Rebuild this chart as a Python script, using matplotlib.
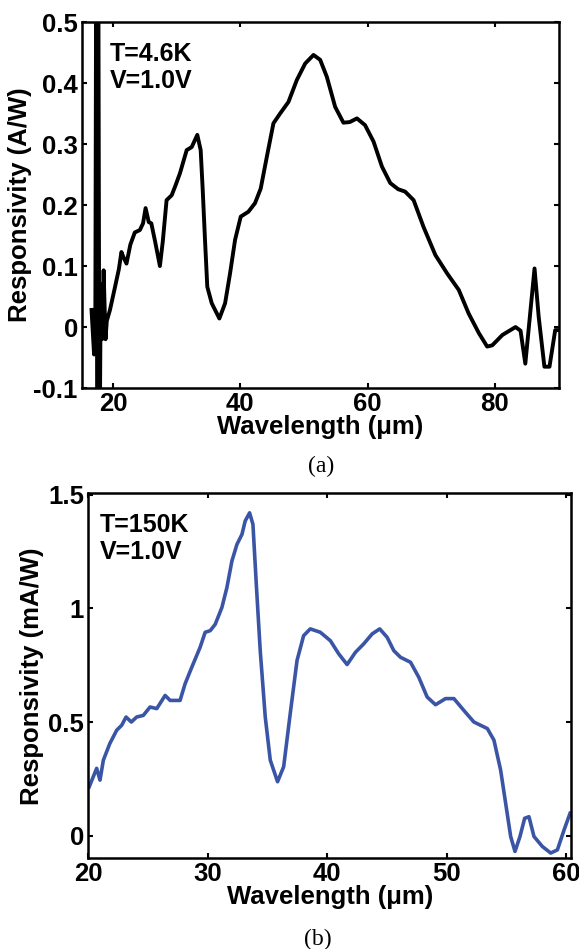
import matplotlib
matplotlib.use("Agg")
import matplotlib.pyplot as plt
from matplotlib.ticker import FuncFormatter

plt.rcParams['font.family'] = ['Liberation Sans', 'DejaVu Sans']
plt.rcParams['font.weight'] = 'bold'

# ---- Panel (a): T=4.6K ----
wl_a = [16.6, 17.0, 17.2, 17.35, 17.55, 17.65, 17.85, 18.05, 18.25, 18.5, 18.8, 19.0,
        19.5, 20.3, 20.9, 21.3, 21.6, 22.1, 22.7, 23.4, 24.2, 24.7, 25.1, 25.6, 26.0, 26.6,
        27.35, 27.8, 28.4, 29.2, 29.8, 30.5, 31.56, 32.35, 33.23, 33.76, 34.08, 34.44, 34.8,
        35.5, 36.7, 37.6, 38.38, 39.17, 40.06, 41.26, 42.3, 43.2, 44.16, 45.2, 46.25, 47.56,
        48.88, 50.19, 51.5, 52.55, 53.6, 54.9, 56.2, 57.2, 58.33, 59.6, 60.94, 62.26, 63.57,
        64.8, 65.9, 67.24, 68.8, 70.66, 72.5, 74.33, 75.9, 77.5, 78.8, 79.6, 81.2, 83.26,
        84.05, 84.8, 86.25, 86.9, 87.8, 88.6, 89.5, 90.0]
resp_a = [0.028, -0.045, 0.02, 0.7, -0.25, 0.7, -0.25, 0.07, -0.02, 0.093, -0.02, 0.01,
          0.028, 0.066, 0.095, 0.123, 0.115, 0.104, 0.135, 0.155, 0.159, 0.17, 0.195, 0.172, 0.17, 0.14,
          0.10, 0.14, 0.208, 0.216, 0.232, 0.252, 0.29, 0.295, 0.315, 0.29, 0.225, 0.143, 0.066,
          0.039, 0.014, 0.039, 0.088, 0.143, 0.181, 0.189, 0.203, 0.227, 0.279, 0.334, 0.35, 0.369,
          0.405, 0.432, 0.446, 0.438, 0.41, 0.361, 0.335, 0.336, 0.342, 0.331, 0.304, 0.263, 0.236,
          0.226, 0.222, 0.208, 0.164, 0.118, 0.088, 0.061, 0.022, -0.01, -0.032, -0.03, -0.013, 0.0,
          -0.006, -0.06, 0.096, 0.017, -0.065, -0.065, -0.005, -0.005]

# ---- Panel (b): T=150K ----
wl_b = [20.08, 20.7, 20.98, 21.26, 21.8, 22.38, 22.8, 23.16, 23.6, 24.05, 24.6, 25.17,
        25.73, 26.43, 26.85, 27.68, 28.1, 28.66, 29.36, 29.78, 30.2, 30.62, 31.18, 31.6,
        32.02, 32.44, 32.86, 33.13, 33.5, 33.78, 34.06, 34.39, 34.81, 35.23, 35.84, 36.35,
        36.9, 37.47, 38.02, 38.58, 39.42, 40.26, 40.96, 41.66, 42.36, 43.05, 43.76, 44.39,
        45.01, 45.57, 46.13, 46.97, 47.66, 48.36, 49.06, 49.9, 50.6, 51.43, 52.27, 53.4,
        53.95, 54.51, 54.93, 55.35, 55.71, 56.13, 56.52, 56.88, 57.3, 58.0, 58.7, 59.26,
        59.82, 60.32]
resp_b = [0.215, 0.296, 0.244, 0.332, 0.405, 0.464, 0.486, 0.522, 0.5, 0.522, 0.529, 0.566,
          0.559, 0.617, 0.595, 0.595, 0.668, 0.741, 0.829, 0.895, 0.902, 0.93, 1.004, 1.092,
          1.209, 1.282, 1.326, 1.385, 1.421, 1.37, 1.107, 0.814, 0.522, 0.332, 0.237, 0.303,
          0.537, 0.771, 0.88, 0.91, 0.895, 0.858, 0.8, 0.753, 0.807, 0.844, 0.888, 0.91,
          0.873, 0.814, 0.785, 0.763, 0.697, 0.61, 0.576, 0.603, 0.603, 0.551, 0.5, 0.471,
          0.42, 0.288, 0.142, -0.004, -0.07, -0.004, 0.076, 0.083, -0.004, -0.048, -0.077, -0.063,
          0.025, 0.098]

xticks_a = [20, 40, 60, 80]
yticks_a = [-0.1, 0, 0.1, 0.2, 0.3, 0.4, 0.5]
xticks_b = [20, 30, 40, 50, 60]
yticks_b = [0, 0.5, 1, 1.5]

fig = plt.figure(figsize=(5.79, 9.49), dpi=100)
ax1 = fig.add_axes([0.1416, 0.5911, 0.8239, 0.3857])
ax2 = fig.add_axes([0.1525, 0.0956, 0.8337, 0.3846])

FS = 18.5

def style(ax):
    for s in ax.spines.values():
        s.set_linewidth(1.8)
    ax.tick_params(direction='in', length=3.5, width=1.5, top=True, right=True,
                   labelsize=FS, pad=3)
    for lab in ax.get_xticklabels() + ax.get_yticklabels():
        lab.set_fontweight('bold')
    ax.yaxis.set_major_formatter(FuncFormatter(lambda v, p: ('%g' % round(v, 3))))

ax1.plot(wl_a, resp_a, color='black', lw=2.8, solid_joinstyle='round')
ax1.set_xlim(15.1, 90.1)
ax1.set_ylim(-0.1, 0.5)
ax1.set_xticks(xticks_a)
ax1.set_yticks(yticks_a)
style(ax1)
ax1.set_xlabel('Wavelength (\u03bcm)', fontsize=FS, fontweight='bold', labelpad=-1)
ax1.set_ylabel('Responsivity (A/W)', fontsize=FS, fontweight='bold', labelpad=1)
ax1.text(0.058, 0.945, 'T=4.6K\nV=1.0V', transform=ax1.transAxes, fontsize=18,
         fontweight='bold', va='top', ha='left', linespacing=1.15)

ax2.plot(wl_b, resp_b, color='#3a55a5', lw=2.6, solid_joinstyle='round')
ax2.set_xlim(20, 60.4)
ax2.set_ylim(-0.1, 1.507)
ax2.set_xticks(xticks_b)
ax2.set_yticks(yticks_b)
style(ax2)
ax2.set_xlabel('Wavelength (\u03bcm)', fontsize=FS, fontweight='bold', labelpad=-1)
ax2.set_ylabel('Responsivity (mA/W)', fontsize=FS, fontweight='bold', labelpad=3)
ax2.text(0.024, 0.945, 'T=150K\nV=1.0V', transform=ax2.transAxes, fontsize=18,
         fontweight='bold', va='top', ha='left', linespacing=1.15)

fig.text(321 / 579, 1 - 466 / 949, '(a)', fontsize=17, family='Liberation Serif',
         fontweight='normal', ha='center', va='center')
fig.text(318 / 579, 1 - 939 / 949, '(b)', fontsize=17, family='Liberation Serif',
         fontweight='normal', ha='center', va='center')

fig.savefig('out.png', dpi=100)
